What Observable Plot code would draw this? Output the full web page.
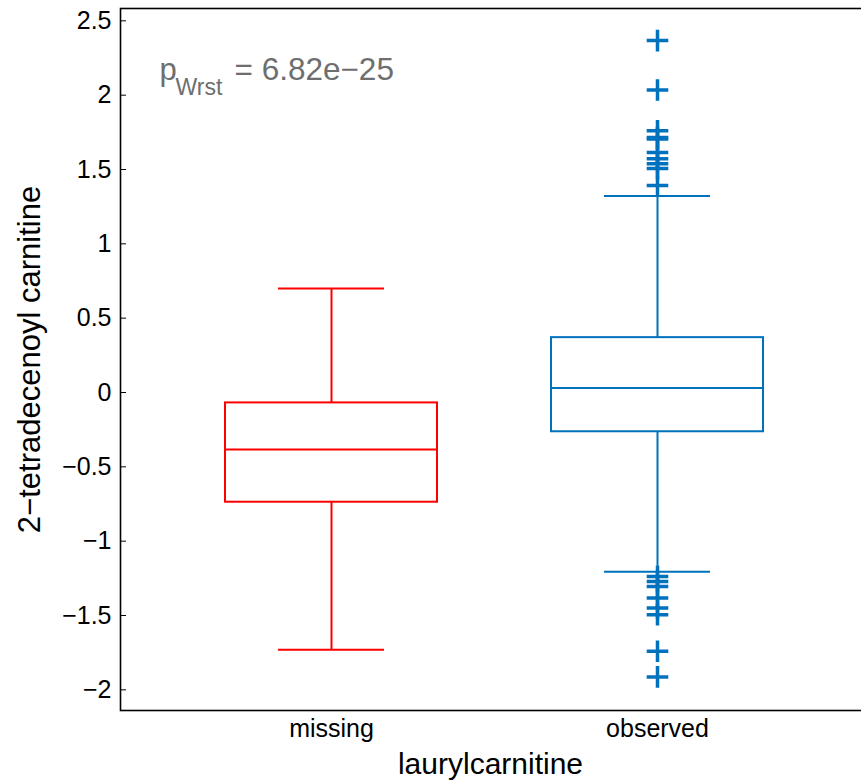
<!DOCTYPE html>
<html>
<head>
<meta charset="utf-8">
<script src="https://cdn.jsdelivr.net/npm/d3@7"></script>
<script src="https://cdn.jsdelivr.net/npm/@observablehq/plot@0.6"></script>
<style>
  html, body { margin: 0; padding: 0; background: #fff; }
  #chart svg { display: block; }
</style>
</head>
<body>
<div id="chart"></div>
<script>
// ---- data ----
const groups = ["missing", "observed"];
const groupColors = ["#ff0000", "#0072bd"];
const upperWhisker = [0.70, 1.322];
const q3 = [-0.070, 0.369];
const medians = [-0.383, 0.031];
const q1 = [-0.738, -0.264];
const lowerWhisker = [-1.730, -1.206];

const outlierGroup = "observed";
const outlierValues = [2.367, 2.035, 1.761, 1.716, 1.705, 1.615, 1.573, 1.539, 1.506, 1.392,
  -1.238, -1.271, -1.305, -1.383, -1.450, -1.495, -1.741, -1.913];

const yTicks = [-2, -1.5, -1, -0.5, 0, 0.5, 1, 1.5, 2, 2.5];
const yLabel = "2\u2212tetradecenoyl carnitine";
const xLabel = "laurylcarnitine";
const pLabel = ["p", "Wrst", "= 6.82e\u221225"];

// ---- build tables ----
const boxes = groups.map((g, i) => ({
  group: g, color: groupColors[i],
  hi: upperWhisker[i], q3: q3[i], med: medians[i], q1: q1[i], lo: lowerWhisker[i]
}));
const outliers = outlierValues.map(v => ({
  group: outlierGroup, value: v, color: groupColors[groups.indexOf(outlierGroup)]
}));

const font = "'Liberation Sans', Arial, Helvetica, sans-serif";
const fmt = d => (d < 0 ? "\u2212" : "") + Math.abs(d);
const lw = 2;

const chart = Plot.plot({
  width: 861,
  height: 781,
  marginLeft: 120,
  marginRight: 1,
  marginTop: 8,
  marginBottom: 71,
  style: { fontFamily: font, background: "#fff" },
  color: { type: "identity" },
  x: { type: "band", domain: groups, range: [224.5, 764.5], paddingInner: 0.3486, paddingOuter: 0, axis: null },
  y: { domain: [-2.139, 2.583], axis: null },
  marks: [
    // whiskers
    Plot.ruleX(boxes, { x: "group", y1: "q3", y2: "hi", stroke: "color", strokeWidth: lw }),
    Plot.ruleX(boxes, { x: "group", y1: "lo", y2: "q1", stroke: "color", strokeWidth: lw }),
    // caps
    Plot.tickY(boxes, { x: "group", y: "hi", stroke: "color", strokeWidth: lw, insetLeft: 53, insetRight: 53 }),
    Plot.tickY(boxes, { x: "group", y: "lo", stroke: "color", strokeWidth: lw, insetLeft: 53, insetRight: 53 }),
    // boxes
    Plot.barY(boxes, { x: "group", y1: "q1", y2: "q3", fill: "none", stroke: "color", strokeWidth: lw }),
    // medians
    Plot.tickY(boxes, { x: "group", y: "med", stroke: "color", strokeWidth: lw }),
    // outliers
    Plot.dot(outliers, { x: "group", y: "value", symbol: "plus", r: 7, stroke: "color", strokeWidth: 3.5 }),
    // axes
    Plot.axisY(yTicks, { anchor: "left", tickSize: -6, tickPadding: 15, tickFormat: fmt, fontSize: 25, label: null, stroke: "black", strokeWidth: 1, color: "black" }),
    Plot.axisX(groups, { anchor: "bottom", tickSize: 0, tickPadding: 9, fontSize: 25, label: null, color: "black" }),
    Plot.frame({ stroke: "black", strokeWidth: 1.6, insetRight: -4 }),
    // axis titles
    Plot.text([yLabel], { frameAnchor: "left", text: d => d, rotate: -90, dx: -90, fontSize: 31, fill: "black", lineAnchor: "middle", textAnchor: "middle" }),
    Plot.text([xLabel], { frameAnchor: "bottom", text: d => d, dy: 63, fontSize: 30, fill: "black", lineAnchor: "bottom", textAnchor: "middle" }),
    // p-value annotation
    Plot.text([pLabel[0]], { frameAnchor: "top-left", text: d => d, dx: 39, dy: 71, fontSize: 31, fill: "#6e6e6e", textAnchor: "start", lineAnchor: "bottom" }),
    Plot.text([pLabel[1]], { frameAnchor: "top-left", text: d => d, dx: 55, dy: 86, fontSize: 23, fill: "#6e6e6e", textAnchor: "start", lineAnchor: "bottom" }),
    Plot.text([pLabel[2]], { frameAnchor: "top-left", text: d => d, dx: 114, dy: 71, fontSize: 31.5, fill: "#6e6e6e", textAnchor: "start", lineAnchor: "bottom" })
  ]
});
document.getElementById("chart").appendChild(chart);
</script>
</body>
</html>
